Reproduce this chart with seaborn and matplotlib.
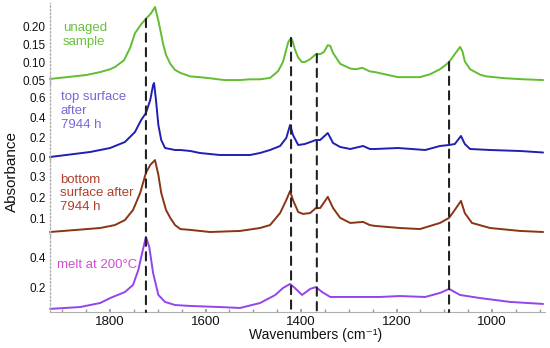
import numpy as np
import pandas as pd
import matplotlib
matplotlib.use("Agg")
import matplotlib.pyplot as plt
from matplotlib.patches import ConnectionPatch
from matplotlib.ticker import MultipleLocator
import seaborn as sns

# ---------------- data ----------------
wn_unaged = [1926, 1850, 1821, 1800, 1790, 1771, 1758, 1748, 1735, 1725, 1714, 1706, 1699, 1695,
             1689, 1683, 1674, 1664, 1653, 1632, 1612, 1591, 1561, 1528, 1507, 1486, 1465, 1454,
             1448, 1438, 1431, 1427, 1421, 1417, 1413, 1406, 1398, 1392, 1381, 1369, 1360, 1352,
             1344, 1339, 1333, 1318, 1297, 1285, 1272, 1256, 1245, 1197, 1151, 1130, 1109, 1099,
             1090, 1078, 1067, 1062, 1057, 1046, 1025, 1011, 973, 933, 893]
abs_unaged = [0.053, 0.064, 0.072, 0.080, 0.086, 0.105, 0.140, 0.180, 0.205, 0.220, 0.236, 0.253,
              0.215, 0.190, 0.150, 0.120, 0.095, 0.078, 0.070, 0.060, 0.058, 0.055, 0.050, 0.050,
              0.052, 0.052, 0.056, 0.068, 0.075, 0.100, 0.135, 0.155, 0.167, 0.155, 0.135, 0.112,
              0.100, 0.100, 0.108, 0.122, 0.122, 0.128, 0.147, 0.145, 0.125, 0.095, 0.082, 0.080,
              0.084, 0.074, 0.072, 0.058, 0.058, 0.066, 0.080, 0.090, 0.100, 0.122, 0.142, 0.130,
              0.102, 0.080, 0.065, 0.060, 0.055, 0.052, 0.050]

wn_top = [1926, 1842, 1800, 1769, 1748, 1735, 1725, 1716, 1710, 1708, 1704, 1699, 1693, 1685,
          1664, 1653, 1632, 1612, 1570, 1507, 1486, 1465, 1444, 1431, 1423, 1417, 1406, 1392,
          1369, 1360, 1344, 1333, 1318, 1297, 1270, 1256, 1245, 1197, 1140, 1109, 1090, 1078,
          1065, 1057, 1046, 1004, 941, 893]
abs_top = [0.00, 0.05, 0.09, 0.15, 0.25, 0.37, 0.44, 0.57, 0.72, 0.74, 0.57, 0.32, 0.17, 0.09,
           0.07, 0.07, 0.06, 0.04, 0.02, 0.02, 0.04, 0.07, 0.11, 0.19, 0.32, 0.22, 0.12, 0.13,
           0.17, 0.17, 0.24, 0.14, 0.10, 0.08, 0.11, 0.08, 0.08, 0.09, 0.07, 0.11, 0.12, 0.13,
           0.21, 0.13, 0.08, 0.07, 0.06, 0.045]

wn_bottom = [1926, 1821, 1790, 1769, 1752, 1737, 1725, 1716, 1706, 1699, 1693, 1683, 1674, 1664,
             1653, 1632, 1591, 1528, 1486, 1465, 1444, 1431, 1423, 1417, 1406, 1396, 1381, 1369,
             1360, 1344, 1333, 1318, 1297, 1270, 1256, 1245, 1193, 1151, 1109, 1090, 1078, 1065,
             1057, 1042, 1004, 941, 893]
abs_bottom = [0.038, 0.057, 0.071, 0.095, 0.143, 0.224, 0.320, 0.357, 0.380, 0.310, 0.224, 0.143,
              0.105, 0.071, 0.052, 0.048, 0.038, 0.043, 0.057, 0.071, 0.128, 0.190, 0.233, 0.190,
              0.133, 0.124, 0.128, 0.152, 0.152, 0.205, 0.152, 0.105, 0.081, 0.086, 0.071, 0.067,
              0.057, 0.052, 0.081, 0.105, 0.143, 0.186, 0.128, 0.081, 0.057, 0.043, 0.038]

wn_melt = [1926, 1863, 1821, 1800, 1769, 1752, 1741, 1733, 1725, 1718, 1710, 1699, 1685, 1664,
           1632, 1570, 1528, 1486, 1454, 1438, 1423, 1413, 1398, 1381, 1369, 1356, 1339, 1297,
           1235, 1193, 1140, 1109, 1090, 1067, 1025, 962, 893]
abs_melt = [0.065, 0.077, 0.103, 0.135, 0.174, 0.220, 0.316, 0.426, 0.530, 0.464, 0.297, 0.155,
            0.110, 0.090, 0.084, 0.077, 0.071, 0.103, 0.155, 0.200, 0.226, 0.200, 0.155, 0.194,
            0.206, 0.174, 0.142, 0.142, 0.142, 0.148, 0.142, 0.168, 0.194, 0.155, 0.135, 0.110,
            0.097]

labels = ["unaged\nsample", "top surface\nafter\n7944 h", "bottom\nsurface after\n7944 h",
          "melt at 200°C"]
marker_wn = [1725, 1421, 1367, 1090]

# ---------------- styling ----------------
sns.set_theme(style="white")
plt.rcParams["font.family"] = ["Liberation Sans", "DejaVu Sans"]

line_colors = ["#62bd32", "#1f1fb4", "#8a3414", "#9444ec"]
text_colors = ["#66c23a", "#7a68d2", "#b0402c", "#d24ed2"]

fig = plt.figure(figsize=(5.5, 3.48), dpi=100)
W, H = 550.0, 348.0
left, right = 50, 545
# (top_px, bottom_px, ylim, yticks, tick format)
panels = [
    (3, 84, (0.039, 0.264), [0.05, 0.10, 0.15, 0.20], "{:.2f}"),
    (78, 160, (-0.03, 0.79), [0.0, 0.2, 0.4, 0.6], "{:.1f}"),
    (158, 236, (0.019, 0.39), [0.1, 0.2, 0.3], "{:.1f}"),
    (233, 312, (0.045, 0.555), [0.2, 0.4], "{:.1f}"),
]
series = [(wn_unaged, abs_unaged), (wn_top, abs_top), (wn_bottom, abs_bottom), (wn_melt, abs_melt)]
text_pos = [(0.026, 0.76, "top"), (0.022, 0.84, "top"), (0.02, 0.80, "top"), (0.014, 0.595, "center")]

axes = []
for i, ((tp, bp, yl, yt, fmt), (wx, ay)) in enumerate(zip(panels, series)):
    ax = fig.add_axes([left / W, 1 - bp / H, (right - left) / W, (bp - tp) / H])
    ax.set_facecolor("none")
    df = pd.DataFrame({"wn": wx, "A": ay})
    sns.lineplot(data=df, x="wn", y="A", ax=ax, color=line_colors[i], lw=1.4,
                 clip_on=False, solid_joinstyle="round")
    ax.set_xlim(1926, 889)
    ax.set_ylim(*yl)
    ax.set_yticks(yt)
    ax.set_yticklabels([fmt.format(v) for v in yt], fontsize=8.5, color="#111111")
    ax.tick_params(axis="y", length=0, pad=3)
    ax.set_xlabel("")
    ax.set_ylabel("")
    for s in ["top", "right", "bottom"]:
        ax.spines[s].set_visible(False)
    ax.spines["left"].set_color("#b0b0b0")
    ax.spines["left"].set_linestyle(":")
    ax.spines["left"].set_linewidth(1.0)
    tx, ty, va = text_pos[i]
    ax.text(tx, ty, labels[i], transform=ax.transAxes, color=text_colors[i],
            fontsize=9.5, va=va, ha="left", linespacing=1.2)
    if i < 3:
        ax.set_xticks([])
    axes.append(ax)

bax = axes[-1]
bax.spines["bottom"].set_visible(True)
bax.spines["bottom"].set_color("#b0b0b0")
bax.spines["bottom"].set_linewidth(0.8)
bax.xaxis.set_major_locator(MultipleLocator(200))
bax.xaxis.set_minor_locator(MultipleLocator(50))
bax.tick_params(axis="x", which="both", direction="in", length=2.5, color="#999999",
                bottom=True, labelsize=9.5, labelcolor="#111111", pad=3)
bax.set_xticks([1800, 1600, 1400, 1200, 1000])
bax.set_xlabel("Wavenumbers (cm⁻¹)", fontsize=10, color="#111111")
bax.xaxis.set_label_coords((316 - left) / (right - left), -0.2)
bax.xaxis.label.set_va("top")

fig.text(12 / W, 1 - 172 / H, "Absorbance", rotation=90, va="center", ha="center",
         fontsize=11, color="#111111")

# dashed marker lines from the unaged curve down to the bottom axis
top_ax = axes[0]
order = np.argsort(wn_unaged)
for m in marker_wn:
    yv = float(np.interp(m, np.array(wn_unaged)[order], np.array(abs_unaged)[order]))
    con = ConnectionPatch(xyA=(m, yv), coordsA=top_ax.transData,
                          xyB=(m, bax.get_ylim()[0]), coordsB=bax.transData,
                          linestyle=(0, (4, 3)), color="#222222", lw=1.5, zorder=5)
    fig.add_artist(con)

fig.savefig("out.png", dpi=100)
